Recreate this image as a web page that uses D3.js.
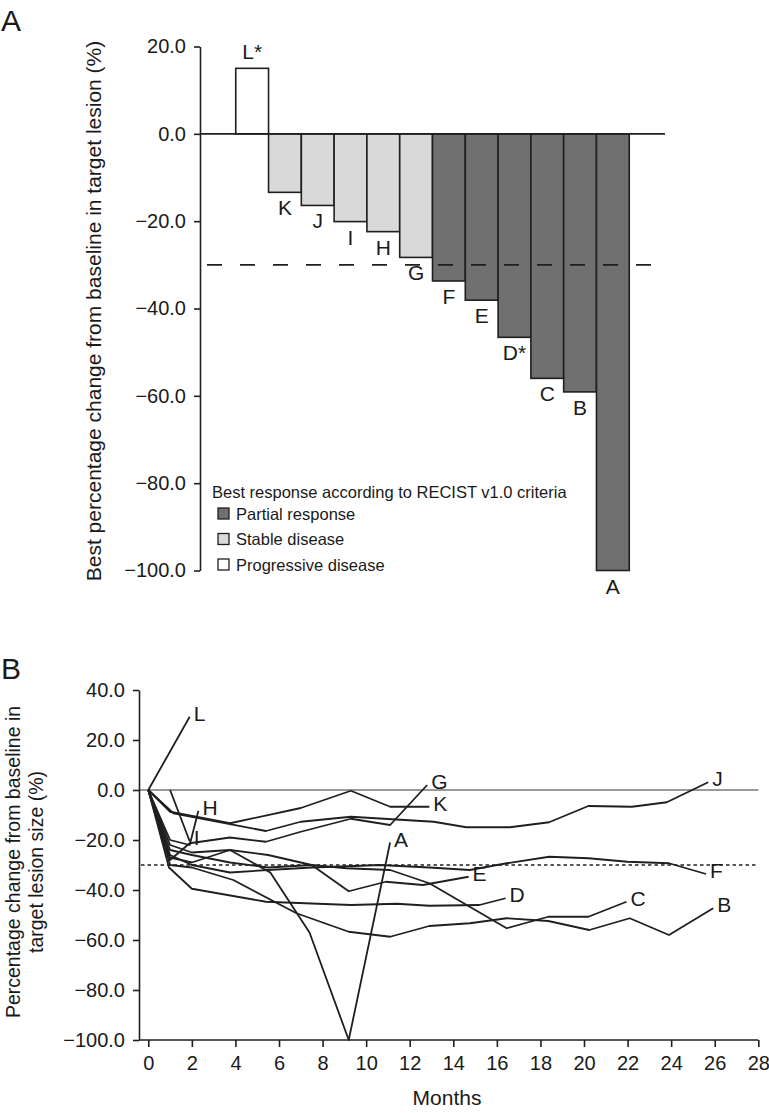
<!DOCTYPE html>
<html>
<head>
<meta charset="utf-8">
<script src="https://cdn.jsdelivr.net/npm/d3@7"></script>
<style>
  html, body { margin: 0; padding: 0; background: #fff; }
  svg text { font-family: "Liberation Sans", Arial, Helvetica, sans-serif; fill: #1a1a1a; }
</style>
</head>
<body>
<svg id="chart" width="769" height="1113"></svg>
<script>
// ---------- Panel A data ----------
const patientsA = ["L","K","J","I","H","G","F","E","D","C","B","A"];
const barLabelsA = ["L*","K","J","I","H","G","F","E","D*","C","B","A"];
const bestChange = [15.0,-13.4,-16.4,-20.1,-22.4,-28.3,-33.7,-38.1,-46.6,-56.0,-59.1,-100.0];
const responseA = ["PD","SD","SD","SD","SD","SD","PR","PR","PR","PR","PR","PR"];
const yTicksA = [20,0,-20,-40,-60,-80,-100];
const thresholdA = -30;
const legendTitle = "Best response according to RECIST v1.0 criteria";
const legendKeys = ["PR","SD","PD"];
const legendNames = ["Partial response","Stable disease","Progressive disease"];

// ---------- Panel B data ----------
const seriesNames = ["L","K","J","G","H","I","A","B","C","D","E","F"];
const monthsL = [0,1.9];            const valuesL = [0,29.3];
const monthsK = [0,1,3.75,7,9.3,11.1,12.9];
const valuesK = [0,-8.7,-13.3,-7.2,-0.3,-6.7,-6.7];
const monthsJ = [0,1.15,5.4,7,9.3,13.1,14.6,16.6,18.4,20.2,22.2,23.8,25.7];
const valuesJ = [0,-9.3,-16.4,-12.7,-10.7,-12.7,-14.9,-14.9,-12.9,-6.4,-6.7,-4.9,3.1];
const monthsG = [0,1,1.9,3.75,5.4,7,9.3,11.1,12.8];
const valuesG = [0,-28,-21.3,-19,-20.7,-16.7,-11.5,-14,2];
const monthsH = [0,1,1.9,2.3];      const valuesH = [0,-20,-22,-8.3];
const monthsI = [1,1.9];            const valuesI = [0,-20.5];
const monthsA = [0,1,2,3.75,5.6,7.4,9.2,11.1];
const valuesA = [0,-27,-29,-24,-33,-57,-100,-21];
const monthsB = [0,1,2,3.9,6.8,9.2,11.1,12.9,14.76,16.45,18.36,20.24,22.1,23.9,25.93];
const valuesB = [0,-30,-31,-36,-49.3,-56.7,-58.7,-54.4,-53.3,-51.3,-52.4,-56,-51.3,-58,-47.3];
const monthsC = [0,1,2,3.75,5.5,7.5,9.1,11.1,12.9,16.45,18.36,20.2,21.95];
const valuesC = [0,-24,-26,-29,-31,-30,-31.3,-32,-37.3,-55.3,-50.7,-50.7,-44.7];
const monthsD = [0,0.95,2,5.4,9.3,11.4,12.9,15.2,16.4];
const valuesD = [0,-31,-39.5,-44.7,-46,-45.5,-46.3,-46,-43.3];
const monthsE = [0,1,2,3.75,5.5,7.5,9.2,10.9,12.6,14.7];
const valuesE = [0,-22,-25,-24,-26,-30,-40.5,-36.7,-38,-34.7];
const monthsF = [0,1,2,3.75,5.5,7.5,9.2,10.6,12.9,14.76,16.45,18.4,20.2,22,23.9,25.6];
const valuesF = [0,-26,-30,-33,-32,-31,-30.5,-30,-31,-32,-29.3,-26.7,-27.3,-28.7,-29.3,-33.6];
const xTicksB = d3.range(0, 29, 2);
const yTicksB = [40,20,0,-20,-40,-60,-80,-100];
const thresholdB = -30;

const seriesMonths = {L:monthsL,K:monthsK,J:monthsJ,G:monthsG,H:monthsH,I:monthsI,A:monthsA,B:monthsB,C:monthsC,D:monthsD,E:monthsE,F:monthsF};
const seriesValues = {L:valuesL,K:valuesK,J:valuesJ,G:valuesG,H:valuesH,I:valuesI,A:valuesA,B:valuesB,C:valuesC,D:valuesD,E:valuesE,F:valuesF};

// ---------- Styles ----------
const INK = "#1f1f1f";
const fillMap = {PR:"#707070", SD:"#d9d9d9", PD:"#ffffff"};
const fmt = d3.format(".1f");
const TICK_FS = "20px", LAB_FS = "21px", TITLE_FS = "21px", LEG_FS = "16.5px", BTITLE_FS = "19.5px";

const svg = d3.select("#chart");

// ================= PANEL A =================
const gA = svg.append("g");
const xA = d3.scaleBand().domain(patientsA).range([200, 665]).paddingInner(0).paddingOuter(1.09);
const yA = d3.scaleLinear().domain([20, -100]).range([46.5, 570.5]);

gA.append("text").attr("x", 1).attr("y", 31).style("font-size", "30px").text("A");

// bars
gA.selectAll("rect.bar").data(patientsA).join("rect")
  .attr("class","bar")
  .attr("x", d => xA(d))
  .attr("width", xA.bandwidth())
  .attr("y", (d,i) => yA(Math.max(0, bestChange[i])))
  .attr("height", (d,i) => Math.abs(yA(bestChange[i]) - yA(0)))
  .attr("fill", (d,i) => fillMap[responseA[i]])
  .attr("stroke", INK).attr("stroke-width", 1.6);

// zero line
gA.append("line").attr("x1", 200).attr("x2", 665).attr("y1", yA(0)).attr("y2", yA(0))
  .attr("stroke", INK).attr("stroke-width", 1.6);
// threshold dashed
gA.append("line").attr("x1", 207).attr("x2", 667).attr("y1", yA(thresholdA)).attr("y2", yA(thresholdA))
  .attr("stroke", INK).attr("stroke-width", 1.6).attr("stroke-dasharray", "15,18");

// bar labels
gA.selectAll("text.blab").data(patientsA).join("text")
  .attr("class","blab")
  .attr("x", d => xA(d) + xA.bandwidth()/2)
  .attr("y", (d,i) => bestChange[i] > 0 ? yA(bestChange[i]) - 9 : yA(bestChange[i]) + 23)
  .attr("text-anchor","middle").style("font-size", LAB_FS)
  .text((d,i) => barLabelsA[i]);

// axis
const axA = gA.append("g").attr("transform","translate(200,0)")
  .call(d3.axisLeft(yA).tickValues(yTicksA).tickFormat(fmt).tickSize(6).tickSizeOuter(0).tickPadding(8));
axA.select(".domain").attr("stroke", INK).attr("stroke-width", 1.6);
axA.selectAll(".tick line").attr("stroke", INK).attr("stroke-width", 1.6);
axA.selectAll(".tick text").style("font-size", TICK_FS).attr("fill", INK)
  .style("font-family", "'Liberation Sans', Arial, sans-serif");

gA.append("text").attr("transform","translate(101,311) rotate(-90)")
  .attr("text-anchor","middle").style("font-size", TITLE_FS)
  .text("Best percentage change from baseline in target lesion (%)");

// legend
gA.append("text").attr("x", 212).attr("y", 498).style("font-size", LEG_FS).text(legendTitle);
const leg = gA.selectAll("g.leg").data(legendKeys).join("g").attr("class","leg")
  .attr("transform", (d,i) => `translate(218, ${508 + i*25.5})`);
leg.append("rect").attr("width", 11).attr("height", 11)
  .attr("fill", d => fillMap[d]).attr("stroke", INK).attr("stroke-width", 1.3);
leg.append("text").attr("x", 18).attr("y", 11.5).style("font-size", LEG_FS)
  .text((d,i) => legendNames[i]);

// ================= PANEL B =================
const gB = svg.append("g");
const xB = d3.scaleLinear().domain([0, 28]).range([148.3, 758.3]);
const yB = d3.scaleLinear().domain([40, -100]).range([690, 1040]);

gB.append("text").attr("x", 1).attr("y", 679).style("font-size","30px").text("B");

// zero line (gray)
gB.append("line").attr("x1", 139).attr("x2", xB(28)).attr("y1", yB(0)).attr("y2", yB(0))
  .attr("stroke", "#9a9a9a").attr("stroke-width", 1.8);
// threshold dotted
gB.append("line").attr("x1", 141).attr("x2", xB(28)).attr("y1", yB(thresholdB)).attr("y2", yB(thresholdB))
  .attr("stroke", INK).attr("stroke-width", 1.7).attr("stroke-dasharray", "3.5,3");

// lines
const lineGen = d3.line().x(d => xB(d[0])).y(d => yB(d[1]));
seriesNames.forEach(name => {
  const pts = seriesMonths[name].map((m,i) => [m, seriesValues[name][i]]);
  gB.append("path").datum(pts).attr("d", lineGen)
    .attr("fill","none").attr("stroke", INK).attr("stroke-width", 1.8)
    .attr("stroke-linejoin","round");
  const last = pts[pts.length-1];
  gB.append("text").attr("x", xB(last[0]) + 4).attr("y", yB(last[1]) + 4)
    .style("font-size", LAB_FS).text(name);
});

// axes
const axYB = gB.append("g").attr("transform","translate(139,0)")
  .call(d3.axisLeft(yB).tickValues(yTicksB).tickFormat(fmt).tickSize(6).tickSizeOuter(0).tickPadding(8));
axYB.select(".domain").attr("stroke", INK).attr("stroke-width", 1.6);
axYB.selectAll(".tick line").attr("stroke", INK).attr("stroke-width", 1.6);
axYB.selectAll(".tick text").style("font-size", TICK_FS).attr("fill", INK)
  .style("font-family", "'Liberation Sans', Arial, sans-serif");

const axXB = gB.append("g").attr("transform","translate(0,1040)")
  .call(d3.axisBottom(xB).tickValues(xTicksB).tickFormat(d3.format("d")).tickSize(7).tickSizeOuter(0).tickPadding(9));
axXB.select(".domain").attr("d", `M139,0H${xB(28)}`).attr("stroke", INK).attr("stroke-width", 1.6);
axXB.selectAll(".tick line").attr("stroke", INK).attr("stroke-width", 1.6);
axXB.selectAll(".tick text").style("font-size", TICK_FS).attr("fill", INK)
  .style("font-family", "'Liberation Sans', Arial, sans-serif");

gB.append("text").attr("x", 447).attr("y", 1105).attr("text-anchor","middle")
  .style("font-size", TITLE_FS).text("Months");

const yTitle = gB.append("text").attr("transform","translate(0,862) rotate(-90)")
  .attr("text-anchor","middle").style("font-size", BTITLE_FS);
yTitle.append("tspan").attr("x", 0).attr("y", 20).text("Percentage change from baseline in");
yTitle.append("tspan").attr("x", 0).attr("y", 43).text("target lesion size (%)");
</script>
</body>
</html>
